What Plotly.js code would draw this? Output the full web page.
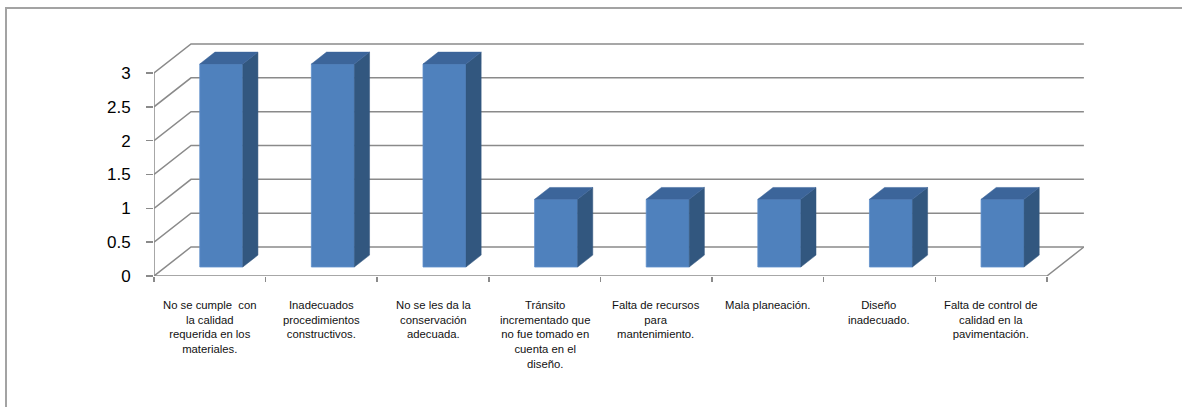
<!DOCTYPE html>
<html>
<head>
<meta charset="utf-8">
<script src="https://cdn.plot.ly/plotly-3.0.1.min.js"></script>
<style>
  body { margin: 0; background: #fff; }
  #wrap { position: relative; width: 1182px; height: 407px; overflow: hidden; background: #fff; }
  #chart { position: absolute; left: 0; top: 0; width: 1182px; height: 407px; }
  #frame { position: absolute; left: 5px; top: 7px; width: 1300px; height: 500px;
           border-left: 2px solid #a3a3a3; border-top: 2px solid #a3a3a3; pointer-events: none; }
</style>
</head>
<body>
<div id="wrap"><div id="chart"></div><div id="frame"></div></div>
<script>
// ---- data ----
const categories = [
  "No se cumple  con<br>la calidad<br>requerida en los<br>materiales.",
  "Inadecuados<br>procedimientos<br>constructivos.",
  "No se les da la<br>conservación<br>adecuada.",
  "Tránsito<br>incrementado que<br>no fue tomado en<br>cuenta en el<br>diseño.",
  "Falta de recursos<br>para<br>mantenimiento.",
  "Mala planeación.",
  "Diseño<br>inadecuado.",
  "Falta de control de<br>calidad en la<br>pavimentación."
];
const values = [3, 3, 3, 1, 1, 1, 1, 1];
const yTicks = [0, 0.5, 1, 1.5, 2, 2.5, 3];
const yTickLabels = ["0", "0.5", "1", "1.5", "2", "2.5", "3"];

// ---- layout geometry (styling) ----
const W = 1182, H = 407;
const M = { l: 154, r: 98, t: 40, b: 131 };
const plotW = W - M.l - M.r, plotH = H - M.t - M.b;
const n = categories.length;
const depthPxX = 37, depthPxY = 29;
const ppx = (plotW - depthPxX) / n;
const ppy = 67.67;
const DX = depthPxX / ppx, DY = depthPxY / ppy;
const f1 = 0.31, f2 = 0.72;           // bar front / back depth fraction
const barW = 43 / ppx;
const gridColor = "#8a8a8a";
const frontColor = "#4f81bd", sideColor = "#32577f", topColor = "#3c659a";

const idx = categories.map((_, i) => i);
const yMax = yTicks[yTicks.length - 1];

const shapes = [];
// back wall gridlines + left wall diagonals
yTicks.forEach(v => {
  shapes.push({
    type: "path", xref: "x", yref: "y", layer: "below",
    path: `M ${-0.5},${v} L ${-0.5 + DX},${v + DY} L ${n - 0.5 + DX},${v + DY}`,
    line: { color: gridColor, width: 1.5 }
  });
});
// floor front edge + right diagonal
shapes.push({
  type: "path", xref: "x", yref: "y", layer: "below",
  path: `M ${-0.5},0 L ${n - 0.5},0 L ${n - 0.5 + DX},${DY}`,
  line: { color: gridColor, width: 1.5 }
});
// front vertical axis line
shapes.push({
  type: "path", xref: "x", yref: "y", layer: "below",
  path: `M ${-0.5},0 L ${-0.5},${yMax}`,
  line: { color: gridColor, width: 1.5 }
});

// bar side and top faces from data
const ddx = (f2 - f1) * DX, ddy = (f2 - f1) * DY;
values.forEach((v, i) => {
  const cx = i + f1 * DX, b = f1 * DY;
  const xL = cx - barW / 2, xR = cx + barW / 2;
  shapes.push({
    type: "path", xref: "x", yref: "y", layer: "above",
    path: `M ${xR},${b} L ${xR + ddx},${b + ddy} L ${xR + ddx},${b + v + ddy} L ${xR},${b + v} Z`,
    fillcolor: sideColor, line: { color: sideColor, width: 0.5 }
  });
  shapes.push({
    type: "path", xref: "x", yref: "y", layer: "above",
    path: `M ${xL},${b + v} L ${xR},${b + v} L ${xR + ddx},${b + v + ddy} L ${xL + ddx},${b + v + ddy} Z`,
    fillcolor: topColor, line: { color: topColor, width: 0.5 }
  });
});

const annotations = categories.map((c, i) => ({
  x: i, y: 0, xref: "x", yref: "y", yshift: -21,
  text: c, showarrow: false, xanchor: "center", yanchor: "top", align: "center",
  font: { family: "Liberation Sans, Arial, sans-serif", size: 11.3, color: "#111" }
}));

const trace = {
  type: "bar",
  x: idx.map(i => i + f1 * DX),
  y: values,
  base: values.map(() => f1 * DY),
  width: barW,
  marker: { color: frontColor, line: { color: "#5f8fcc", width: 0.8 } },
  hoverinfo: "skip"
};

const boundaries = [];
for (let i = 0; i <= n; i++) boundaries.push(i - 0.5);

const layout = {
  width: W, height: H,
  margin: M,
  paper_bgcolor: "rgba(0,0,0,0)", plot_bgcolor: "rgba(0,0,0,0)",
  showlegend: false,
  xaxis: {
    range: [-0.5, n - 0.5 + DX + 0.001],
    tickvals: boundaries, ticktext: boundaries.map(() => ""),
    ticks: "outside", ticklen: 5, tickcolor: gridColor, tickwidth: 1.5,
    showgrid: false, zeroline: false, showline: false, fixedrange: true
  },
  yaxis: {
    range: [0, plotH / ppy],
    tickvals: yTicks, ticktext: yTickLabels,
    ticks: "outside", ticklen: 7, tickcolor: gridColor, tickwidth: 1.5,
    ticklabelstandoff: 12,
    tickfont: { family: "Liberation Sans, Arial, sans-serif", size: 17, color: "#000" },
    showgrid: false, zeroline: false, showline: false, fixedrange: true
  },
  shapes: shapes,
  annotations: annotations
};

Plotly.newPlot("chart", [trace], layout, { staticPlot: true, displayModeBar: false });
</script>
</body>
</html>
